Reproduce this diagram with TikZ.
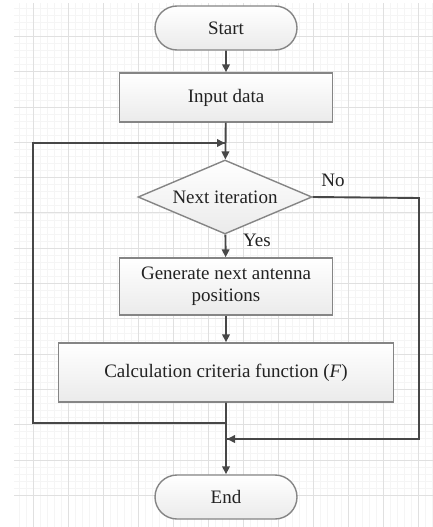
\documentclass[tikz,border=0pt]{standalone}
\usepackage{fontspec}
\setmainfont{Liberation Serif}
\usetikzlibrary{shapes.geometric,shapes.misc,arrows.meta}
\definecolor{lineC}{HTML}{474747}
\definecolor{edgeC}{HTML}{858585}
\definecolor{txtC}{HTML}{222222}
\tikzset{
  boxbase/.style={draw=edgeC,line width=1.4pt,top color=white,bottom color=gray!16,text=txtC,font=\fontsize{19}{22}\selectfont,align=center,inner sep=0pt},
  procbox/.style={boxbase,rectangle,minimum height=#1},
  termbox/.style={boxbase,rounded rectangle,minimum width=142pt,minimum height=44pt},
  decbox/.style={boxbase,diamond,aspect=2.35,minimum width=174pt,minimum height=74pt,inner sep=0pt},
  conn/.style={draw=lineC,line width=1.9pt,-{Triangle[length=8pt,width=7.5pt]}},
  plainline/.style={draw=lineC,line width=1.9pt},
  lbl/.style={text=txtC,font=\fontsize{19}{22}\selectfont,inner sep=0pt},
}
\begin{document}
\begin{tikzpicture}[x=1pt,y=-1pt]
\useasboundingbox (0,0) rectangle (433,527);
\fill[white] (0,0) rectangle (433,527);
% grid
\begin{scope}
\clip (14,4) rectangle (433,527);
\foreach \i in {0,...,70} {
  \draw[gray!8,line width=0.5pt] ({-2+7*\i},0) -- ({-2+7*\i},527);
  \draw[gray!8,line width=0.5pt] (0,{1+7.06*\i}) -- (433,{1+7.06*\i});
}
\foreach \i in {0,...,14} {
  \draw[gray!24,line width=0.7pt] ({-2+35*\i},0) -- ({-2+35*\i},527);
  \draw[gray!24,line width=0.7pt] (0,{1+35.3*\i}) -- (433,{1+35.3*\i});
}
\end{scope}
% nodes
\node[termbox] (start) at (226,28) {Start};
\node[procbox=49pt,minimum width=213pt] (input) at (226,97.5) {Input data};
\node[decbox] (dec) at (225,197) {Next iteration};
\node[procbox=57pt,minimum width=213pt] (gen) at (226,286.5) {Generate next antenna\\positions};
\node[procbox=59pt,minimum width=335pt] (calc) at (226,372.5) {Calculation criteria function (\textit{F})};
\node[termbox] (end) at (226,497) {End};
% labels
\node[lbl] (no) at (333,180) {No};
\node[lbl] (yes) at (257,240) {Yes};
% helper coordinates
\coordinate (jl) at (226,423);
\coordinate (bl) at (33,423);
\coordinate (tl) at (33,143);
\coordinate (tm) at (226,143);
\coordinate (tr) at (419,198);
\coordinate (br) at (419,439);
\coordinate (jr) at (226,439);
% connectors
\draw[conn] (start) -- (input);
\draw[conn] (input) -- (dec);
\draw[conn] (dec) -- (gen);
\draw[conn] (gen) -- (calc);
\draw[conn] (calc) -- (end);
\draw[plainline] (jl) -- (bl) -- (tl) -- (tm);
\draw[conn,shorten >=1pt] (tl) -- (tm);
\draw[plainline] (dec.east) -- (tr) -- (br) -- (jr);
\draw[conn,shorten >=1pt] (br) -- (jr);
\end{tikzpicture}
\end{document}
